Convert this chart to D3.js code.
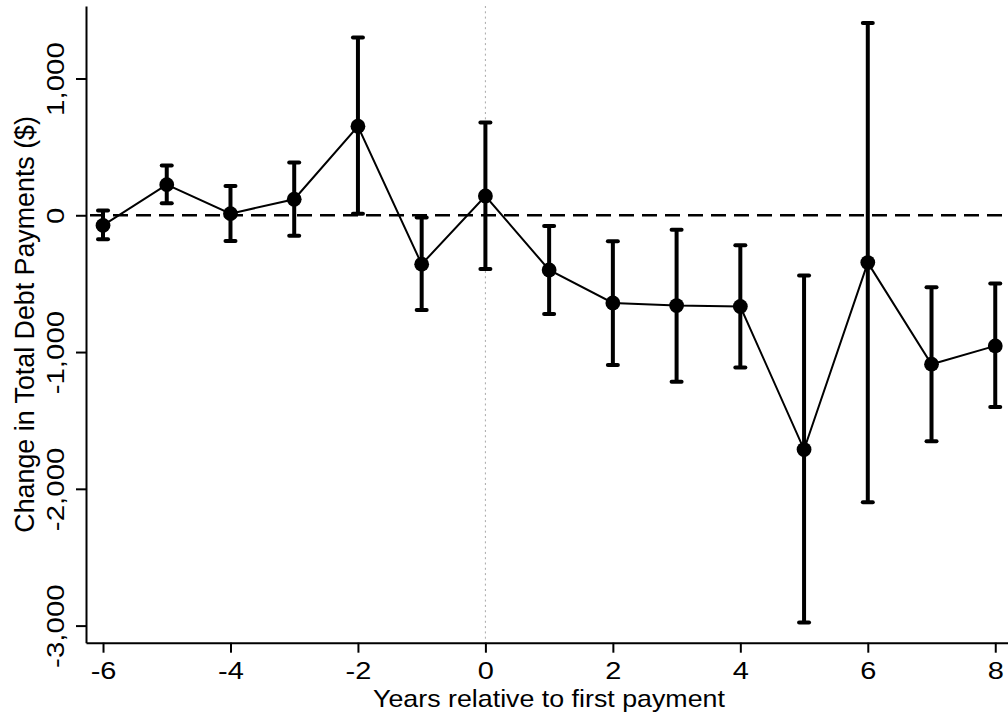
<!DOCTYPE html>
<html>
<head>
<meta charset="utf-8">
<script src="https://cdn.jsdelivr.net/npm/d3@7"></script>
<style>
  html, body { margin: 0; padding: 0; background: #fff; }
  svg { display: block; }
  text { font-family: "Liberation Sans", Arial, sans-serif; fill: #000; }
</style>
</head>
<body>
<svg id="chart" width="1008" height="717"></svg>
<script>
// ---- data ----
const years   = [-6, -5, -4, -3, -2, -1, 0, 1, 2, 3, 4, 5, 6, 7, 8];
const coef    = [-74, 224, 12, 117, 651, -358, 141, -400, -641, -660, -667, -1713, -346, -1089, -955];
const ciLow   = [-176, 88, -188, -149, 12, -692, -393, -721, -1094, -1218, -1113, -2977, -2098, -1652, -1401];
const ciHigh  = [35, 363, 214, 385, 1299, -17, 678, -78, -190, -105, -219, -441, 1406, -526, -499];
const xTickValues = [-6, -4, -2, 0, 2, 4, 6, 8];
const xTickLabels = ["-6", "-4", "-2", "0", "2", "4", "6", "8"];
const yTickValues = [-3000, -2000, -1000, 0, 1000];
const yTickLabels = ["-3,000", "-2,000", "-1,000", "0", "1,000"];
const xTitle = "Years relative to first payment";
const yTitle = "Change in Total Debt Payments ($)";

// ---- layout ----
const svg = d3.select("#chart");
const plotLeft = 86, plotRight = 1008, plotTop = 6, plotBottom = 642.7;

const x = d3.scaleLinear().domain([-6.267, 8.2]).range([plotLeft, plotRight]);
const y = d3.scaleLinear().domain([-3125, 1530]).range([plotBottom, plotTop]);

const rows = years.map((yr, i) => ({ yr, b: coef[i], lo: ciLow[i], hi: ciHigh[i] }));

// reference lines
svg.append("line")
  .attr("x1", x(0)).attr("x2", x(0))
  .attr("y1", plotTop).attr("y2", plotBottom)
  .attr("stroke", "#a8a8a8").attr("stroke-width", 1)
  .attr("stroke-dasharray", "2,3.3");

svg.append("line")
  .attr("x1", plotLeft).attr("x2", plotRight)
  .attr("y1", y(0)).attr("y2", y(0))
  .attr("stroke", "#000").attr("stroke-width", 2.6)
  .attr("stroke-dasharray", "15,8")
  .attr("stroke-dashoffset", -4);

// error bars
const eb = svg.append("g");
eb.selectAll("line.v").data(rows).join("line")
  .attr("class", "v")
  .attr("x1", d => x(d.yr)).attr("x2", d => x(d.yr))
  .attr("y1", d => y(d.lo)).attr("y2", d => y(d.hi))
  .attr("stroke", "#000").attr("stroke-width", 4);
["lo", "hi"].forEach(k => {
  eb.selectAll("line.c" + k).data(rows).join("line")
    .attr("class", "c" + k)
    .attr("x1", d => x(d.yr) - 5).attr("x2", d => x(d.yr) + 5)
    .attr("y1", d => y(d[k])).attr("y2", d => y(d[k]))
    .attr("stroke", "#000").attr("stroke-width", 4)
    .attr("stroke-linecap", "round");
});

// connected line
svg.append("path")
  .datum(rows)
  .attr("fill", "none").attr("stroke", "#000").attr("stroke-width", 2)
  .attr("d", d3.line().x(d => x(d.yr)).y(d => y(d.b)));

svg.append("g").selectAll("circle").data(rows).join("circle")
  .attr("cx", d => x(d.yr)).attr("cy", d => y(d.b)).attr("r", 7.4)
  .attr("fill", "#000");

// axes
const xAxis = d3.axisBottom(x).tickValues(xTickValues)
  .tickFormat((d, i) => xTickLabels[i]).tickSize(10).tickSizeOuter(0);
const gx = svg.append("g").attr("transform", `translate(0,${plotBottom})`).call(xAxis);
gx.select(".domain").attr("stroke", "#000").attr("stroke-width", 2);
gx.selectAll(".tick line").attr("stroke", "#000").attr("stroke-width", 2);
gx.selectAll(".tick text")
  .attr("y", null).attr("dy", null)
  .attr("font-size", 29)
  .attr("transform", "translate(0,36) scale(1,0.82)")
  .style("font-family", '"Liberation Sans", Arial, sans-serif');

const yAxis = d3.axisLeft(y).tickValues(yTickValues)
  .tickFormat((d, i) => yTickLabels[i]).tickSize(10).tickSizeOuter(0);
const gy = svg.append("g").attr("transform", `translate(${plotLeft},0)`).call(yAxis);
gy.select(".domain").attr("stroke", "#000").attr("stroke-width", 2);
gy.selectAll(".tick line").attr("stroke", "#000").attr("stroke-width", 2);
gy.selectAll(".tick text")
  .attr("x", null).attr("dy", null)
  .attr("text-anchor", "middle")
  .attr("font-size", 29.5)
  .attr("transform", "translate(-22.5,0) scale(0.79,1) rotate(-90)")
  .style("font-family", '"Liberation Sans", Arial, sans-serif');

// titles
svg.append("text")
  .attr("text-anchor", "middle")
  .attr("font-size", 26.8)
  .attr("transform", `translate(${(plotLeft + plotRight) / 2 + 2},706.7) scale(1,0.91)`)
  .text(xTitle);

svg.append("text")
  .attr("text-anchor", "middle")
  .attr("font-size", 26.8)
  .attr("transform", `translate(33.5,${(plotTop + plotBottom) / 2}) rotate(-90)`)
  .text(yTitle);
</script>
</body>
</html>
